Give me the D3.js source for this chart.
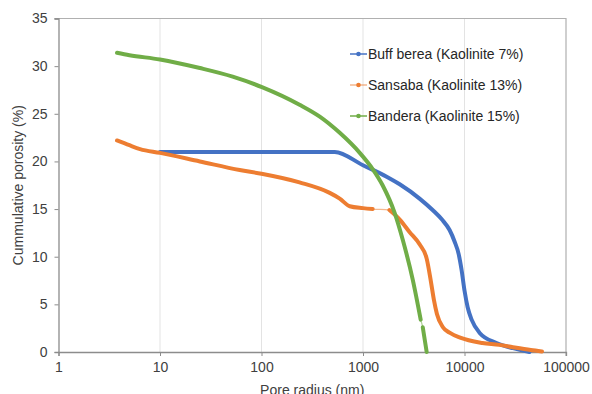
<!DOCTYPE html>
<html>
<head>
<meta charset="utf-8">
<script src="https://cdn.jsdelivr.net/npm/d3@7"></script>
<style>
  body { margin: 0; background: #fff; }
  svg text { font-family: "Liberation Sans", Arial, sans-serif; }
</style>
</head>
<body>
<div id="plotSect"></div>
<script>
// pore radius (nm) and cumulative porosity (%)
let buffR = [10, 30, 100, 300, 527, 1000, 1710, 2300, 3610, 4850, 6000, 7130, 7980, 8750, 9360, 10020, 10740, 11750, 14100, 20700, 30000, 43600];
let buffP = [21, 21, 21, 21, 21, 19.6, 18.4, 17.6, 16.1, 14.9, 13.9, 12.8, 11.6, 10.3, 8.6, 6.4, 4.7, 3.4, 2.0, 0.95, 0.4, 0];

let sansR = [3.77, 5, 6.36, 10, 24.7, 61, 100, 237, 470, 590, 740, 1000, 1245, 1820, 2300, 2870, 3610, 4240, 4650, 4990, 5350, 6130, 7200, 9060, 15000, 22000, 30000, 45000, 58000];
let sansP = [22.2, 21.7, 21.3, 20.9, 20.0, 19.1, 18.7, 17.8, 16.7, 16.1, 15.3, 15.1, 15.0, 14.9, 13.9, 12.6, 11.3, 9.8, 7.5, 5.5, 4.0, 2.6, 2.0, 1.5, 0.95, 0.75, 0.5, 0.2, 0.05];
let sansGap = [1245, 1820]; // markers sparse here, only the thin connecting line shows

let bandR = [3.77, 5, 10, 24.7, 52, 101, 237, 375, 590, 929, 1245, 1560, 2050, 2460, 3090, 3700, 3880, 4240];
let bandP = [31.4, 31.15, 30.7, 29.8, 28.9, 27.8, 25.95, 24.7, 23.0, 20.9, 19.2, 17.5, 14.6, 11.8, 7.6, 3.4, 2.6, 0];
let bandGap = [3700, 3880];

let seriesNames = ["Buff berea (Kaolinite 7%)", "Sansaba (Kaolinite 13%)", "Bandera (Kaolinite 15%)"];
let seriesColors = ["#4472C4", "#ED7D31", "#70AD47"];

let xTicks = [1, 10, 100, 1000, 10000, 100000];
let yTicks = [0, 5, 10, 15, 20, 25, 30, 35];

let SVGwidth = 592,
    SVGheight = 394,
    margin = {top: 18.5, right: 26, bottom: 42, left: 58.5},
    width = SVGwidth - margin.left - margin.right,
    height = SVGheight - margin.top - margin.bottom;

let svg = d3.select("#plotSect").append("svg")
    .attr("width", SVGwidth)
    .attr("height", SVGheight)
    .append("g")
    .attr("transform", "translate(" + margin.left + "," + margin.top + ")");

let xScale = d3.scaleLog().domain([1, 100000]).range([0, width]);
let yScale = d3.scaleLinear().domain([0, 35]).range([height, 0]);

// vertical gridlines
svg.selectAll(".grid")
    .data(xTicks.slice(1, -1))
    .enter().append("line")
    .attr("class", "grid")
    .attr("x1", d => xScale(d)).attr("x2", d => xScale(d))
    .attr("y1", 0).attr("y2", height)
    .style("stroke", "#e3e3e3")
    .style("stroke-width", 1);

// plot box (top and right)
svg.append("path")
    .attr("d", "M-4,0H" + width + "V" + (height + 4))
    .style("fill", "none")
    .style("stroke", "#b0b0b0")
    .style("stroke-width", 1.2);

let xAxis = d3.axisBottom(xScale).tickValues(xTicks).tickFormat(d3.format("d")).tickSize(4).tickPadding(6);
let yAxis = d3.axisLeft(yScale).tickValues(yTicks).tickSize(4).tickPadding(7);

let gx = svg.append("g")
    .attr("transform", "translate(0," + height + ")")
    .call(xAxis);
let gy = svg.append("g").call(yAxis);

[gx, gy].forEach(function(g) {
    g.select(".domain").style("stroke", "#8c8c8c").style("stroke-width", 1.3);
    g.selectAll(".tick line").style("stroke", "#8c8c8c");
    g.selectAll(".tick text")
        .style("font-size", "14px")
        .style("fill", "#404040");
});

svg.append("text")
    .attr("x", width / 2)
    .attr("y", height + 43)
    .style("text-anchor", "middle")
    .style("font-size", "14px")
    .style("fill", "#404040")
    .text("Pore radius (nm)");

svg.append("text")
    .attr("transform", "rotate(-90)")
    .attr("x", -height / 2)
    .attr("y", -36)
    .style("text-anchor", "middle")
    .style("font-size", "14px")
    .style("fill", "#404040")
    .text("Cummulative porosity (%)");

let line = d3.line()
    .x(d => xScale(d[0]))
    .y(d => yScale(d[1]))
    .curve(d3.curveMonotoneX);

function pairs(rs, ps) {
    return rs.map(function(r, i) { return [r, ps[i]]; });
}

let allSeries = [pairs(buffR, buffP), pairs(sansR, sansP), pairs(bandR, bandP)];
let gaps = [null, sansGap, bandGap];

// thin connecting line under the dense markers
allSeries.forEach(function(pts, i) {
    svg.append("path")
        .attr("d", line(pts))
        .style("fill", "none")
        .style("stroke", seriesColors[i])
        .style("stroke-opacity", 0.55)
        .style("stroke-width", 1.3);
});

// dense marker band, drawn as a thick stroke, broken where markers are sparse
allSeries.forEach(function(pts, i) {
    let segs = [pts];
    if (gaps[i]) {
        segs = [pts.filter(d => d[0] <= gaps[i][0]), pts.filter(d => d[0] >= gaps[i][1])];
    }
    segs.forEach(function(seg) {
        svg.append("path")
            .attr("d", line(seg))
            .style("fill", "none")
            .style("stroke", seriesColors[i])
            .style("stroke-width", 4)
            .style("stroke-linecap", "round")
            .style("stroke-linejoin", "round");
    });
});

// legend
let legend = svg.selectAll(".legend")
    .data(seriesNames)
    .enter().append("g")
    .attr("class", "legend")
    .attr("transform", function(d, i) { return "translate(" + (350 - margin.left) + "," + (54 - margin.top + i * 31) + ")"; });

legend.append("line")
    .attr("x1", 0).attr("x2", 17)
    .attr("y1", 0).attr("y2", 0)
    .style("stroke", (d, i) => seriesColors[i])
    .style("stroke-opacity", (d, i) => i == 1 ? 0.55 : 1)
    .style("stroke-width", 1.5);

legend.append("circle")
    .attr("cx", 8.5).attr("cy", 0).attr("r", 2.3)
    .style("fill", (d, i) => seriesColors[i]);

legend.append("text")
    .attr("x", 18)
    .attr("y", 0)
    .attr("dy", "0.35em")
    .style("font-size", "14px")
    .style("fill", "#262626")
    .text(d => d);
</script>
</body>
</html>
